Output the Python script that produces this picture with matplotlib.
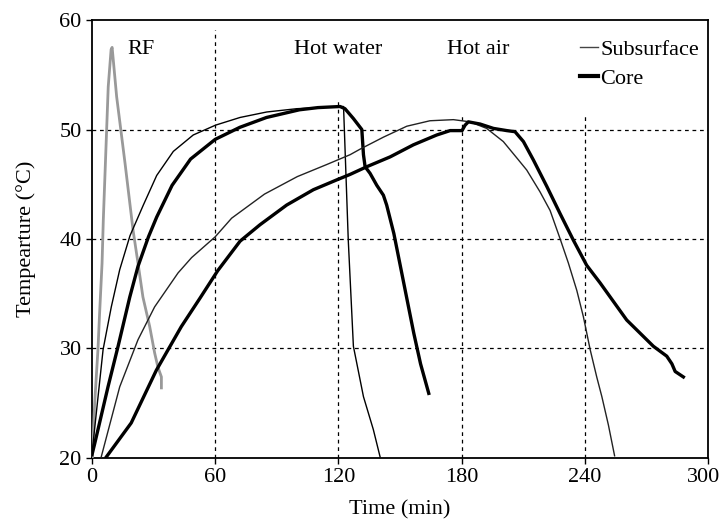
import matplotlib
matplotlib.use('Agg')
import matplotlib.pyplot as plt
import matplotlib.transforms as mtransforms
from matplotlib.lines import Line2D

plt.rcParams['font.family'] = ['Liberation Serif', 'DejaVu Serif']
plt.rcParams['font.size'] = 16

# RF heating (gray)
rf_t = [0.2, 1.3, 2.9, 3.7, 4.9, 5.5, 6.7, 7.9, 9.3, 9.8, 12.0, 16.1, 20.0, 22.4, 24.8, 28.1, 30.5, 32.1, 33.8, 33.8]
rf_T = [20.1, 25.0, 29.9, 33.2, 37.8, 41.7, 47.8, 53.9, 57.3, 57.5, 53.0, 46.9, 40.8, 37.8, 34.7, 32.0, 29.6, 28.3, 27.4, 26.4]

# hot water, subsurface
hw_sub_t = [0, 0.5, 5.4, 9.4, 13.5, 18.5, 25, 31.5, 39.6, 49.3, 60.2, 72.1, 85.1, 99.7, 110, 122.5,
            123.2, 124.8, 127.3, 132.2, 137, 140.3]
hw_sub_T = [20.3, 21.3, 29.9, 33.8, 37.2, 40.3, 43.1, 45.8, 48.0, 49.5, 50.4, 51.1, 51.6, 51.9, 52.0, 52.1,
            48.4, 39.9, 30.2, 25.6, 22.6, 20.1]

# hot water, core
hw_core_t = [0, 1.3, 7.8, 12.7, 18.4, 22.4, 27.5, 31.5, 39, 48, 60, 72, 85, 101, 110, 120.8,
             123.2, 127.3, 131.4, 132.2, 133, 135.4, 138.7, 141.9, 143.5, 147, 150.2, 153.5, 156.7, 160, 164]
hw_core_T = [20.3, 21.3, 26.5, 30.2, 34.7, 37.5, 40.2, 42.0, 44.9, 47.3, 49.1, 50.2, 51.1, 51.8, 52.0, 52.1,
             51.9, 51.0, 50.0, 47.7, 46.6, 46.0, 44.9, 44.0, 43.1, 40.5, 37.5, 34.4, 31.4, 28.6, 25.9]

# hot air, subsurface
ha_sub_t = [4.5, 13.5, 22.4, 30.5, 41.9, 48.5, 60, 68, 84, 100, 114.3, 125.7, 130.5, 141.9, 153.3,
            164.6, 176, 184.1, 192.2, 200.3, 206.9, 211.7, 218.2, 223.1, 228, 232, 236.1, 239.3, 242.6,
            245.8, 248.3, 251.5, 254.5]
ha_sub_T = [20.1, 26.5, 30.8, 33.8, 36.9, 38.3, 40.2, 41.9, 44.1, 45.7, 46.8, 47.7, 48.2, 49.3, 50.3,
            50.8, 50.9, 50.7, 50.1, 48.9, 47.4, 46.3, 44.3, 42.6, 40.0, 37.8, 35.3, 32.9, 29.9,
            27.4, 25.6, 23.0, 20.2]

# hot air, core
ha_core_t = [7, 19.1, 31.3, 43.5, 52.6, 61.2, 72.1, 81.8, 94.8, 107.8, 119.2, 125.7, 133.8, 145.2, 156.5,
             167.9, 174.4, 180.2, 181.7, 183.3, 189, 195.5, 202, 206, 210.1, 215, 221.5, 228, 234.4,
             240.9, 247.4, 253.9, 260.4, 266.9, 273.4, 279.9, 282.4, 284, 288]
ha_core_T = [20.1, 23.2, 28.0, 32.0, 34.6, 37.1, 39.8, 41.3, 43.1, 44.5, 45.4, 45.9, 46.6, 47.5, 48.6,
             49.5, 49.9, 49.9, 50.4, 50.7, 50.5, 50.1, 49.9, 49.8, 48.9, 47.2, 44.8, 42.3, 39.9,
             37.6, 36.0, 34.3, 32.6, 31.4, 30.2, 29.3, 28.6, 27.9, 27.4]

fig = plt.figure(figsize=(7.21, 5.24), dpi=100)
ax = fig.add_axes([0.1276, 0.126, 0.8544, 0.8358])

# grid (vertical lines stop under the labels)
for yv in [30, 40, 50]:
    ax.axhline(yv, color='black', lw=0.9, ls=(0, (3, 3)), zorder=1)
for xv, top in [(60, 0.977), (120, 0.82), (180, 0.78), (240, 0.78)]:
    ax.axvline(xv, ymax=top, color='black', lw=0.9, ls=(0, (3, 3)), zorder=1)

ax.plot(rf_t, rf_T, color='#999999', lw=2.0, zorder=3)
ax.plot(hw_sub_t, hw_sub_T, color='black', lw=1.0, zorder=3)
ax.plot(hw_core_t, hw_core_T, color='black', lw=2.4, zorder=3)
ax.plot(ha_sub_t, ha_sub_T, color='#222222', lw=1.0, zorder=3)
ax.plot(ha_core_t, ha_core_T, color='black', lw=2.4, zorder=3)

ax.text(24, 57.3, 'RF', ha='center', va='center')
ax.text(120, 57.3, 'Hot water', ha='center', va='center')
ax.text(188, 57.3, 'Hot air', ha='center', va='center')

handles = [Line2D([], [], color='#444444', lw=1.0), Line2D([], [], color='black', lw=3.0)]
ax.legend(handles, ['Subsurface', 'Core'], loc='upper right', frameon=False,
          bbox_to_anchor=(1.0, 0.977), handlelength=0.8, handletextpad=0.1,
          labelspacing=0.4, borderaxespad=0.1, borderpad=0.3)

ax.set_xlim(0, 300)
ax.set_ylim(20, 60)
ax.set_xticks([0, 60, 120, 180, 240, 300])
ax.set_yticks([20, 30, 40, 50, 60])
ax.tick_params(direction='out', length=4, width=1)
for s in ax.spines.values():
    s.set_linewidth(1.3)
ax.set_xlabel('Time (min)', labelpad=9)
ax.set_ylabel('Tempearture (°C)', labelpad=17)

# keep "300" inside the picture
lab = ax.get_xticklabels()[-1]
lab.set_transform(lab.get_transform() + mtransforms.ScaledTranslation(-3.5 / 72, 0, fig.dpi_scale_trans))

fig.savefig('out.png', dpi=100)
